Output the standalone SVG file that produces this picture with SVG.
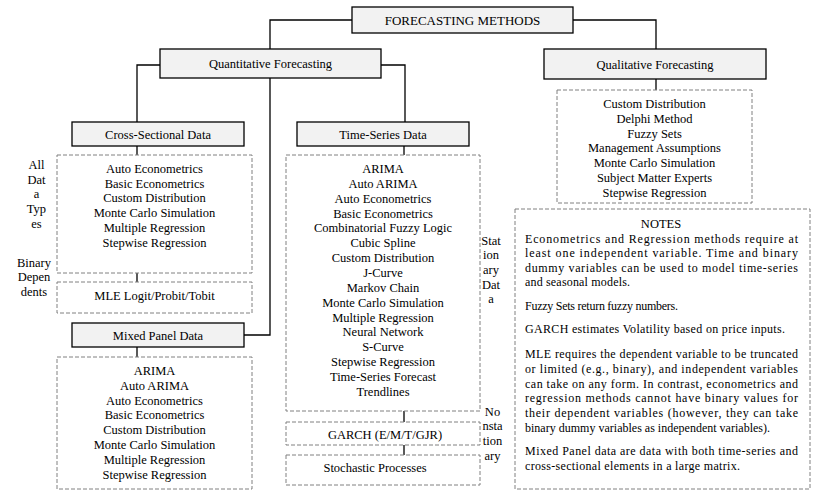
<svg xmlns="http://www.w3.org/2000/svg" width="825" height="500" viewBox="0 0 825 500">
<style>
text{font-family:'Liberation Serif','DejaVu Serif',serif;font-size:12.5px;fill:#000}
.c{text-anchor:middle}
.n{font-size:12px}
.solid{fill:#f2f2f2;stroke:#000;stroke-width:1.3}
.dash{fill:#fff;stroke:#808080;stroke-width:1;stroke-dasharray:4 2}
.conn{fill:none;stroke:#000;stroke-width:1.3}
</style>
<rect width="825" height="500" fill="#fff"/>
<g id="connectors" class="conn">
<path d="M352 20H270V49"/>
<path d="M573 20H656V49"/>
<path d="M160 65H137V122"/>
<path d="M381 65H405V122"/>
<path d="M270 78V335H244"/>
<path d="M656 79V90"/>
<path d="M137 146V155"/>
<path d="M137 273V282"/>
<path d="M137 347V357"/>
<path d="M404 146V155"/>
<path d="M404 411V422"/>
<path d="M404 445V455"/>
</g>
<g id="root">
<rect class="solid" x="352" y="7" width="221" height="26"/>
<text class="c" x="462.5" y="24.5" style="font-size:13px">FORECASTING METHODS</text>
</g>
<g id="quantitative">
<rect class="solid" x="160" y="49" width="221" height="29"/>
<text class="c" x="270.5" y="68">Quantitative Forecasting</text>
</g>
<g id="qualitative">
<rect class="solid" x="544" y="49" width="222" height="30"/>
<text class="c" x="655" y="68.5">Qualitative Forecasting</text>
</g>
<g id="qualitative-methods">
<rect class="dash" x="557" y="90" width="195" height="113"/>
<text class="c" x="654.5" y="108">Custom Distribution</text>
<text class="c" x="654.5" y="122.75">Delphi Method</text>
<text class="c" x="654.5" y="137.5">Fuzzy Sets</text>
<text class="c" x="654.5" y="152.25">Management Assumptions</text>
<text class="c" x="654.5" y="167">Monte Carlo Simulation</text>
<text class="c" x="654.5" y="181.75">Subject Matter Experts</text>
<text class="c" x="654.5" y="196.5">Stepwise Regression</text>
</g>
<g id="cross-sectional">
<rect class="solid" x="72" y="122" width="172" height="24"/>
<text class="c" x="158" y="138.5">Cross-Sectional Data</text>
</g>
<g id="time-series">
<rect class="solid" x="297" y="122" width="172" height="24"/>
<text class="c" x="383" y="138.5">Time-Series Data</text>
</g>
<g id="cross-methods">
<rect class="dash" x="57" y="155" width="195" height="118"/>
<text class="c" x="154.5" y="173">Auto Econometrics</text>
<text class="c" x="154.5" y="187.7">Basic Econometrics</text>
<text class="c" x="154.5" y="202.4">Custom Distribution</text>
<text class="c" x="154.5" y="217.1">Monte Carlo Simulation</text>
<text class="c" x="154.5" y="231.8">Multiple Regression</text>
<text class="c" x="154.5" y="246.5">Stepwise Regression</text>
</g>
<g id="all-data-types-label">
<text class="c" x="36.5" y="169">All</text>
<text class="c" x="36.5" y="183.7">Dat</text>
<text class="c" x="36.5" y="198.4">a</text>
<text class="c" x="36.5" y="213.1">Typ</text>
<text class="c" x="36.5" y="227.8">es</text>
</g>
<g id="binary-dependents-label">
<text class="c" x="34" y="266.5">Binary</text>
<text class="c" x="34" y="281.2">Depen</text>
<text class="c" x="34" y="295.9">dents</text>
</g>
<g id="mle">
<rect class="dash" x="57" y="282" width="195" height="31"/>
<text class="c" x="154.5" y="300">MLE Logit/Probit/Tobit</text>
</g>
<g id="mixed-panel">
<rect class="solid" x="72" y="323" width="172" height="24"/>
<text class="c" x="158" y="339.5">Mixed Panel Data</text>
</g>
<g id="mixed-methods">
<rect class="dash" x="57" y="357" width="195" height="132"/>
<text class="c" x="154.5" y="375">ARIMA</text>
<text class="c" x="154.5" y="389.8">Auto ARIMA</text>
<text class="c" x="154.5" y="404.6">Auto Econometrics</text>
<text class="c" x="154.5" y="419.4">Basic Econometrics</text>
<text class="c" x="154.5" y="434.2">Custom Distribution</text>
<text class="c" x="154.5" y="449">Monte Carlo Simulation</text>
<text class="c" x="154.5" y="463.8">Multiple Regression</text>
<text class="c" x="154.5" y="478.6">Stepwise Regression</text>
</g>
<g id="time-series-methods">
<rect class="dash" x="286" y="155" width="194" height="256"/>
<text class="c" x="383" y="173">ARIMA</text>
<text class="c" x="383" y="187.85">Auto ARIMA</text>
<text class="c" x="383" y="202.7">Auto Econometrics</text>
<text class="c" x="383" y="217.55">Basic Econometrics</text>
<text class="c" x="383" y="232.4">Combinatorial Fuzzy Logic</text>
<text class="c" x="383" y="247.25">Cubic Spline</text>
<text class="c" x="383" y="262.1">Custom Distribution</text>
<text class="c" x="383" y="276.95">J-Curve</text>
<text class="c" x="383" y="291.8">Markov Chain</text>
<text class="c" x="383" y="306.65">Monte Carlo Simulation</text>
<text class="c" x="383" y="321.5">Multiple Regression</text>
<text class="c" x="383" y="336.35">Neural Network</text>
<text class="c" x="383" y="351.2">S-Curve</text>
<text class="c" x="383" y="366.05">Stepwise Regression</text>
<text class="c" x="383" y="380.9">Time-Series Forecast</text>
<text class="c" x="383" y="395.75">Trendlines</text>
</g>
<g id="stationary-label">
<text class="c" x="491" y="244.5">Stat</text>
<text class="c" x="491" y="259.2">ion</text>
<text class="c" x="491" y="273.9">ary</text>
<text class="c" x="491" y="288.6">Dat</text>
<text class="c" x="491" y="303.3">a</text>
</g>
<g id="garch">
<rect class="dash" x="286" y="422" width="194" height="23"/>
<text class="c" x="385" y="439.3">GARCH (E/M/T/GJR)</text>
</g>
<g id="stochastic">
<rect class="dash" x="286" y="455" width="194" height="30"/>
<text class="c" x="375" y="471.7">Stochastic Processes</text>
</g>
<g id="nonstationary-label">
<text class="c" x="492.5" y="415.7">No</text>
<text class="c" x="492.5" y="430.4">nsta</text>
<text class="c" x="492.5" y="445.1">tion</text>
<text class="c" x="492.5" y="459.8">ary</text>
</g>
<g id="notes">
<rect class="dash" x="515" y="209" width="295" height="280"/>
<text class="c n" x="661" y="227.5" style="font-size:12.5px">NOTES</text>
<text class="n" x="525" y="242.5" textLength="273" lengthAdjust="spacing">Econometrics and Regression methods require at</text>
<text class="n" x="525" y="257" textLength="273" lengthAdjust="spacing">least one independent variable. Time and binary</text>
<text class="n" x="525" y="271.5" textLength="273" lengthAdjust="spacing">dummy variables can be used to model time-series</text>
<text class="n" x="525" y="286" textLength="105" lengthAdjust="spacing">and seasonal models.</text>
<text class="n" x="525" y="310" textLength="153" lengthAdjust="spacing">Fuzzy Sets return fuzzy numbers.</text>
<text class="n" x="525" y="333.3" textLength="260" lengthAdjust="spacing">GARCH estimates Volatility based on price inputs.</text>
<text class="n" x="525" y="358.3" textLength="273" lengthAdjust="spacing">MLE requires the dependent variable to be truncated</text>
<text class="n" x="525" y="373" textLength="273" lengthAdjust="spacing">or limited (e.g., binary), and independent variables</text>
<text class="n" x="525" y="387.7" textLength="273" lengthAdjust="spacing">can take on any form. In contrast, econometrics and</text>
<text class="n" x="525" y="402.4" textLength="273" lengthAdjust="spacing">regression methods cannot have binary values for</text>
<text class="n" x="525" y="417.1" textLength="273" lengthAdjust="spacing">their dependent variables (however, they can take</text>
<text class="n" x="525" y="431.8" textLength="245" lengthAdjust="spacing">binary dummy variables as independent variables).</text>
<text class="n" x="525" y="455.3" textLength="273" lengthAdjust="spacing">Mixed Panel data are data with both time-series and</text>
<text class="n" x="525" y="470" textLength="215" lengthAdjust="spacing">cross-sectional elements in a large matrix.</text>
</g>
</svg>
